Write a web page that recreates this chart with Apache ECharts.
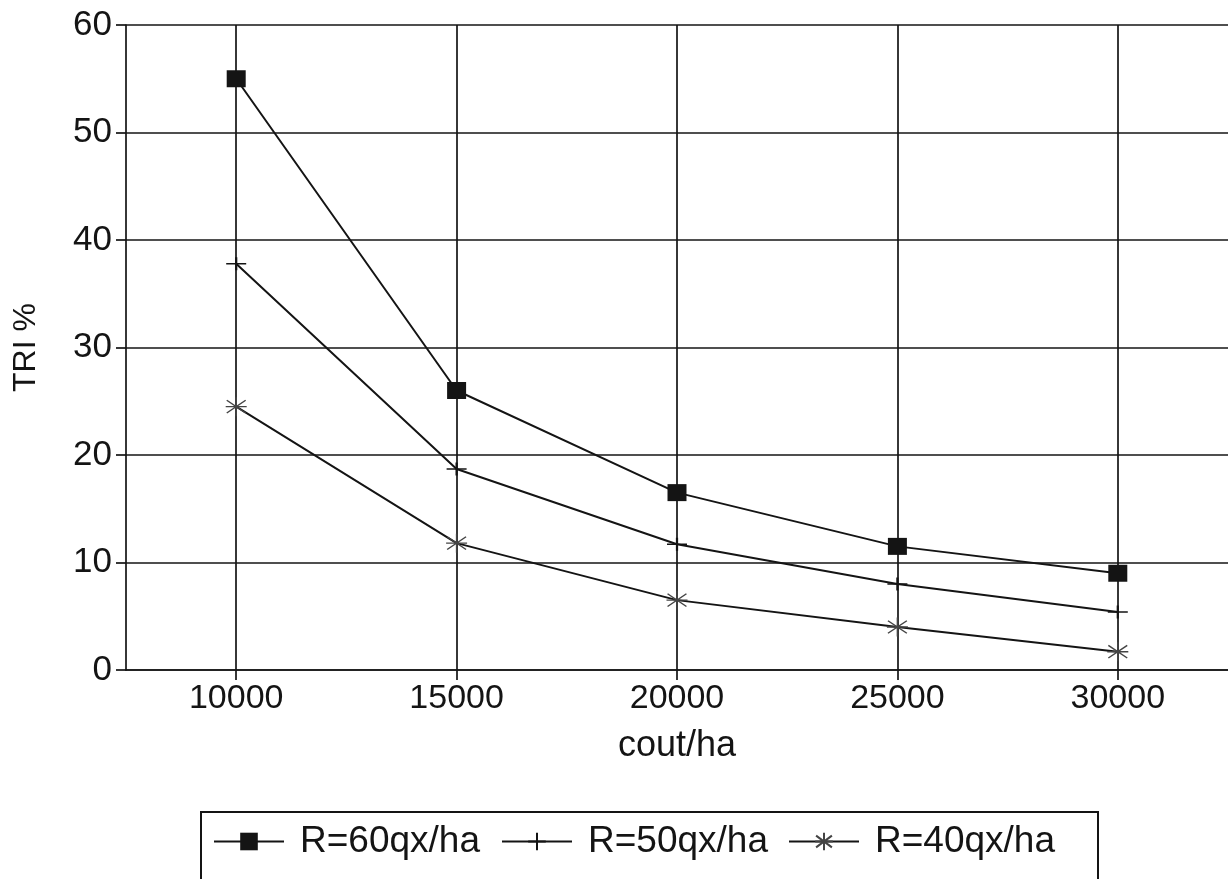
<!DOCTYPE html>
<html>
<head>
<meta charset="utf-8">
<title>TRI % selon le coût par hectare</title>
<script src="https://cdn.jsdelivr.net/npm/echarts@6/dist/echarts.min.js"></script>
<style>
  html, body { margin: 0; padding: 0; background: #ffffff; }
  #chart { width: 1228px; height: 879px; }
</style>
</head>
<body>
<div id="chart"></div>
<script>
// Coût à l'hectare (axe des abscisses)
const costs = ['10000', '15000', '20000', '25000', '30000'];

// TRI (%) pour chaque niveau de rendement
const tri60 = [55, 26, 16.5, 11.5, 9];
const tri50 = [37.8, 18.7, 11.7, 8.0, 5.4];
const tri40 = [24.5, 11.8, 6.5, 4.0, 1.7];

const seriesNames = ['R=60qx/ha', 'R=50qx/ha', 'R=40qx/ha'];
const yTicks = { min: 0, max: 60, step: 10 };

const INK = '#141414';
const FONT = '"Liberation Sans", Arial, Helvetica, sans-serif';

const plusPath = 'path://M0,6 L20,6 M10,0 L10,12';
const starPath = 'path://M0,9 L20,9 M10,0 L10,18 M1,3 L19,15 M19,3 L1,15';

const chart = echarts.init(document.getElementById('chart'), null, { renderer: 'canvas' });

function legendAt(left, name) {
  return {
    data: [name],
    left: left,
    top: 823,
    orient: 'horizontal',
    padding: 0,
    itemWidth: 70,
    itemHeight: 22,
    textStyle: {
      fontFamily: FONT,
      fontSize: 37,
      color: INK,
      padding: [10, 0, 0, 11]
    }
  };
}

const option = {
  backgroundColor: '#ffffff',
  animation: false,
  textStyle: { fontFamily: FONT },
  grid: { left: 126, top: 25, width: 1104, height: 645, containLabel: false },
  legend: [
    legendAt(213, seriesNames[0]),
    legendAt(501, seriesNames[1]),
    legendAt(788, seriesNames[2])
  ],
  graphic: [{
    type: 'rect',
    silent: true,
    shape: { x: 201, y: 812, width: 897, height: 100 },
    style: { fill: 'none', stroke: INK, lineWidth: 2 }
  }],
  xAxis: {
    type: 'category',
    data: costs,
    boundaryGap: true,
    name: 'cout/ha',
    nameLocation: 'middle',
    nameGap: 58,
    nameTextStyle: { fontFamily: FONT, fontSize: 36, color: INK },
    axisLine: { show: true, lineStyle: { color: INK, width: 1.7 } },
    axisTick: { show: true, alignWithLabel: true, length: 10, lineStyle: { color: INK, width: 1.7 } },
    axisLabel: { fontFamily: FONT, fontSize: 34, color: INK, margin: 12 },
    splitLine: { show: true, alignWithLabel: true, lineStyle: { color: INK, width: 1.7 } }
  },
  yAxis: {
    type: 'value',
    min: yTicks.min,
    max: yTicks.max,
    interval: yTicks.step,
    name: 'TRI %',
    nameLocation: 'middle',
    nameGap: 84,
    nameTextStyle: { fontFamily: FONT, fontSize: 32, color: INK },
    axisLine: { show: true, lineStyle: { color: INK, width: 1.7 } },
    axisTick: { show: true, length: 10, lineStyle: { color: INK, width: 1.7 } },
    axisLabel: { fontFamily: FONT, fontSize: 35, color: INK, margin: 14 },
    splitLine: { show: true, lineStyle: { color: INK, width: 1.7 } }
  },
  series: [
    {
      name: seriesNames[0],
      type: 'line',
      data: tri60,
      symbol: 'rect',
      symbolSize: [19, 17],
      lineStyle: { color: INK, width: 2 },
      itemStyle: { color: INK, borderColor: INK, borderWidth: 0 },
      z: 4
    },
    {
      name: seriesNames[1],
      type: 'line',
      data: tri50,
      symbol: plusPath,
      symbolSize: [20, 13],
      lineStyle: { color: INK, width: 2 },
      itemStyle: { color: INK, borderColor: INK, borderWidth: 1.8 },
      z: 3
    },
    {
      name: seriesNames[2],
      type: 'line',
      data: tri40,
      symbol: starPath,
      symbolSize: [21, 19],
      lineStyle: { color: INK, width: 2 },
      itemStyle: { color: '#444', borderColor: '#444', borderWidth: 1.4 },
      z: 3
    }
  ]
};

chart.setOption(option);
</script>
</body>
</html>
